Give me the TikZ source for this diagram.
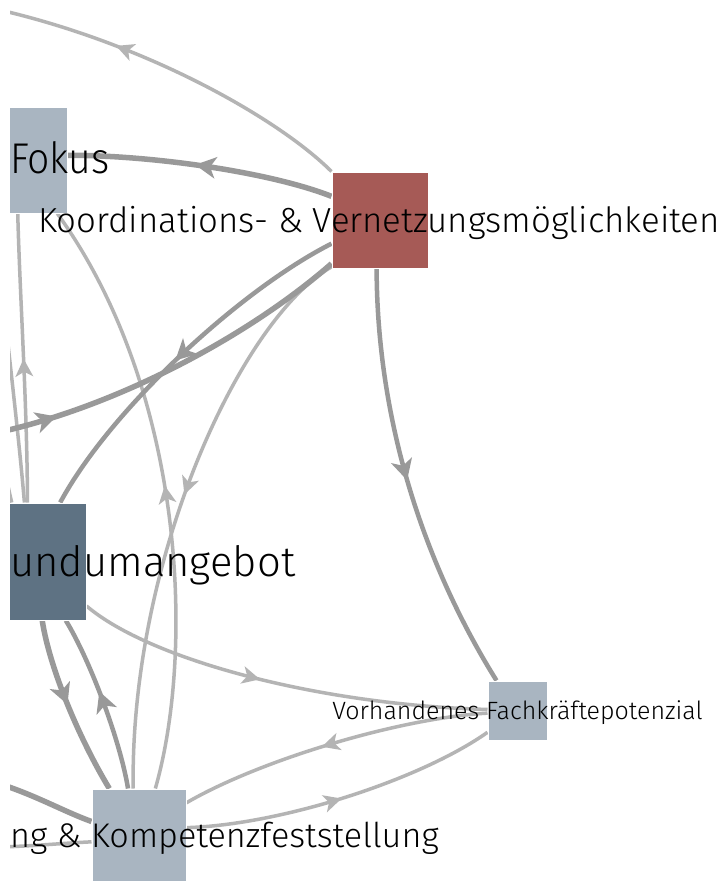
\documentclass[tikz,border=0pt]{standalone}
\usepackage{fontspec}
\newfontfamily\lblfont[UprightFont=* Light]{Fira Sans}
\newfontfamily\narrowlblfont[UprightFont=* Light, FakeStretch=0.91]{Fira Sans}
\usetikzlibrary{decorations.markings}
\pgfdeclarelayer{bg}
\pgfdeclarelayer{edges}
\pgfsetlayers{bg,edges,main}
\definecolor{boxlight}{HTML}{A9B5C1}
\definecolor{boxdark}{HTML}{5E7283}
\definecolor{boxred}{HTML}{A65A56}
\definecolor{edgelight}{HTML}{B4B4B4}
\definecolor{edgedark}{HTML}{999999}
\tikzset{
  box/.style={draw=white, line width=1pt, minimum size=#1, inner sep=0pt},
  lbl/.style={font=\lblfont\fontsize{#1}{#1}\selectfont, text=black, inner sep=0pt},
  thin edge/.style={draw=edgelight, line width=3.5pt},
  mid edge/.style={draw=edgedark, line width=4.5pt},
  thick edge/.style={draw=edgedark, line width=5.5pt},
  light arrow at/.style={postaction={decorate}, decoration={markings,
    mark=at position #1 with {\fill[edgelight] (5pt,0pt) -- (-13pt,9pt) -- (-8pt,0pt) -- (-13pt,-9pt) -- cycle;}}},
  dark arrow at/.style={postaction={decorate}, decoration={markings,
    mark=at position #1 with {\fill[edgedark] (6pt,0pt) -- (-15pt,11pt) -- (-9pt,0pt) -- (-15pt,-11pt) -- cycle;}}},
}
\begin{document}
\begin{tikzpicture}[x=1pt,y=-1pt]
\useasboundingbox (0,0) rectangle (722,881);
\begin{pgfonlayer}{bg}
\fill[white] (0,0) rectangle (722,881);
\end{pgfonlayer}
% Drawing nodes
\begin{scope}
\clip (10,0) rectangle (722,881);
\node[box=106pt, fill=boxlight] (fokus) at (14,160) {};
\node[box=96pt, fill=boxred] (koord) at (380,220) {};
\node[box=117pt, fill=boxdark] (grund) at (27.5,561.5) {};
\node[box=59pt, fill=boxlight] (vorh) at (517.5,710.5) {};
\node[box=94pt, fill=boxlight] (komp) at (139,836) {};
\end{scope}
% Drawing labels
\node[lbl=43, font=\narrowlblfont\fontsize{43}{43}\selectfont, anchor=base west] (fokuslbl) at (10,173) {Fokus};
\node[lbl=34.8, anchor=base] (koordlbl) at (379,232) {Koordinations- \& Vernetzungsmöglichkeiten};
\node[lbl=41.8, anchor=base west] (grundlbl) at (10,576) {undumangebot};
\node[lbl=25, anchor=base] (vorhlbl) at (517.5,719) {Vorhandenes Fachkräftepotenzial};
\node[lbl=34.2, anchor=base west] (komplbl) at (10,847) {ng \& Kompetenzfeststellung};
% Free ends beyond the left edge
\coordinate (offtop) at (0,10);
\coordinate (offmid) at (0,432);
\coordinate (offside) at (3,300);
\coordinate (offstub) at (5,473);
\coordinate (offlow) at (0,784);
\coordinate (offbase) at (0,847);
% Drawing edges
\begin{pgfonlayer}{edges}
\begin{scope}
\clip (10,0) rectangle (722,881);
% koord -> top arc
\draw[thin edge, light arrow at=0.66] (koord.135) .. controls (280,120) and (150,45) .. (offtop);
% koord -> fokus
\draw[thick edge, dark arrow at=0.5] (koord.154) .. controls (270,172) and (150,155) .. (fokus.5);
% grund -> fokus
\draw[thin edge, light arrow at=0.48] (grund.north) .. controls (27,400) and (20,300) .. (fokus.274);
% left side -> grund
\draw[thin edge] (offside) .. controls (12,380) and (20,450) .. (grund.93);
\draw[thin edge] (offstub) -- (grund.105);
% komp -> fokus
\draw[thin edge, light arrow at=0.5] (komp.71) .. controls (195,650) and (185,390) .. (fokus.309);
% koord -> komp
\draw[thin edge, light arrow at=0.47] (koord.224) .. controls (240,320) and (130,560) .. (komp.97);
% left side -> koord
\draw[thick edge, dark arrow at=0.14] (offmid) .. controls (120,405) and (250,335) .. (koord.222);
% koord -> grund
\draw[mid edge, dark arrow at=0.5] (koord.206) .. controls (240,290) and (110,410) .. (grund.61);
% koord -> vorh
\draw[mid edge, dark arrow at=0.48] (koord.266) .. controls (377,418) and (422,561) .. (vorh.125);
% grund -> vorh
\draw[thin edge, light arrow at=0.44] (grund.-37) .. controls (150,660) and (320,705) .. (vorh.178);
% vorh -> komp
\draw[thin edge, light arrow at=0.52] (vorh.185) .. controls (400,718) and (260,760) .. (komp.35);
% komp -> vorh
\draw[thin edge, light arrow at=0.48] (komp.10) .. controls (280,825) and (420,780) .. (vorh.216);
% grund -> komp
\draw[thick edge, dark arrow at=0.45] (grund.284) .. controls (50,670) and (80,740) .. (komp.122);
% komp -> grund
\draw[mid edge, dark arrow at=0.53] (komp.103) .. controls (120,740) and (90,660) .. (grund.303);
% left side -> komp
\draw[thick edge] (offlow) .. controls (35,795) and (65,812) .. (komp.163);
\draw[thin edge] (offbase) .. controls (35,846) and (65,843) .. (komp.187);
\end{scope}
\end{pgfonlayer}
\end{tikzpicture}
\end{document}
